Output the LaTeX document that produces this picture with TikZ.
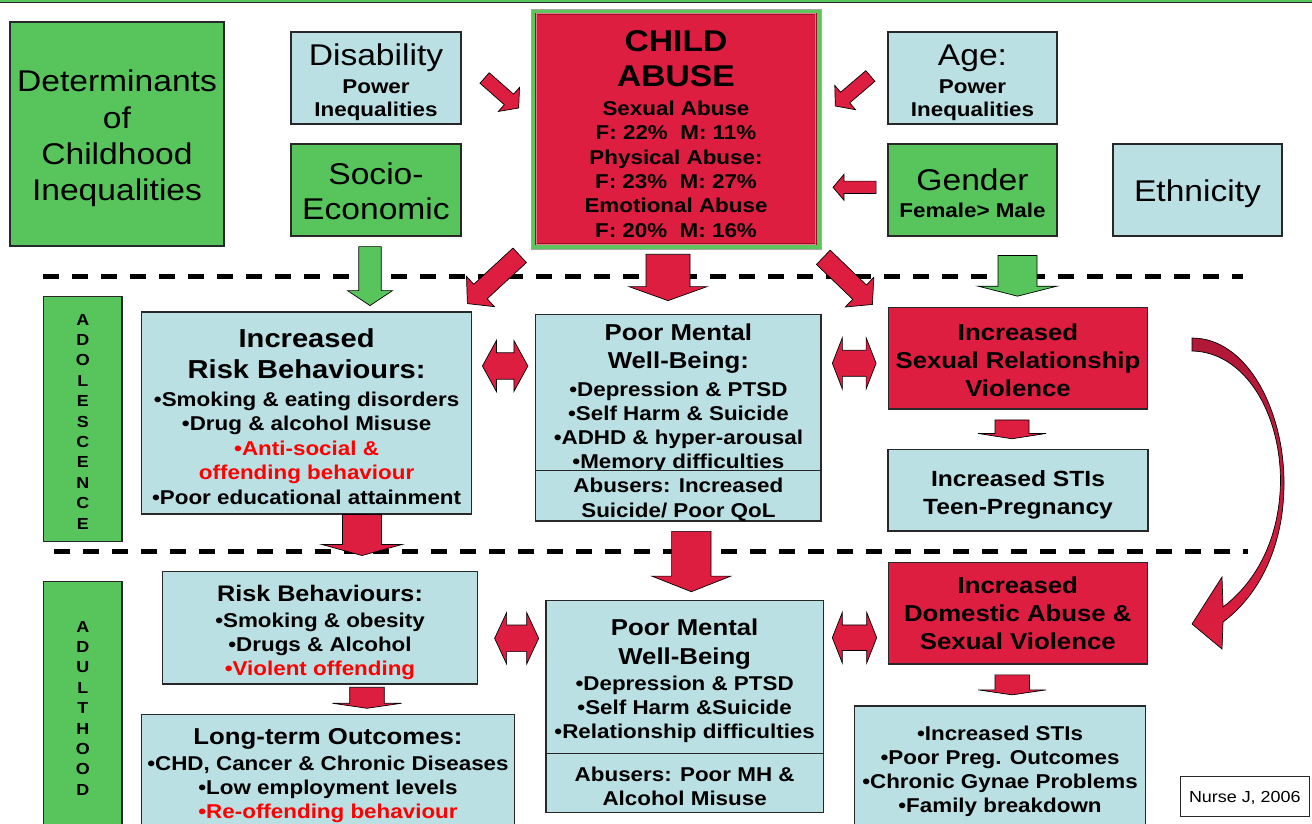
\documentclass[tikz,border=0pt]{standalone}
\usepackage{fontspec}
\setmainfont[FakeStretch=1.12]{Liberation Sans}
\usetikzlibrary{calc}
\definecolor{boxgreen}{RGB}{88,196,92}
\definecolor{framegreen}{RGB}{92,198,92}
\definecolor{boxblue}{RGB}{186,224,228}
\definecolor{boxred}{RGB}{222,30,64}
\definecolor{textred}{RGB}{255,0,0}
\definecolor{boxline}{RGB}{40,40,40}
\definecolor{abdark}{RGB}{150,15,40}
\definecolor{abpink}{RGB}{235,120,140}
\definecolor{curvetop}{RGB}{176,24,56}
\newcommand\setfs[2]{\fontsize{#1pt}{#2pt}\selectfont}
% invisible strut that raises the first line's height (moves a centred text block down by #1/2)
\newcommand\dn[1]{\rule{0pt}{\dimexpr0.73em+#1pt\relax}}
% block arrow: [style]{tail}{tip}{body half width}{head half width}{head length}
\newcommand\blockarrow[6][]{%
  \coordinate (ba-a) at #2;
  \coordinate (ba-b) at #3;
  \coordinate (ba-n) at ($(ba-b)!#6pt!(ba-a)$);
  \draw[#1] ($(ba-a)!#4pt!90:(ba-b)$) -- ($(ba-n)!#4pt!-90:(ba-a)$) -- ($(ba-n)!#5pt!-90:(ba-a)$)
    -- (ba-b) -- ($(ba-n)!#5pt!90:(ba-a)$) -- ($(ba-n)!#4pt!90:(ba-a)$) -- ($(ba-a)!#4pt!-90:(ba-b)$) -- cycle;
}
% double block arrow: [style]{end A}{end B}{body half width}{head half width}{head length}
\newcommand\dblarrow[6][]{%
  \coordinate (da-a) at #2;
  \coordinate (da-b) at #3;
  \coordinate (da-n1) at ($(da-a)!#6pt!(da-b)$);
  \coordinate (da-n2) at ($(da-b)!#6pt!(da-a)$);
  \draw[#1] (da-a) -- ($(da-n1)!#5pt!90:(da-b)$) -- ($(da-n1)!#4pt!90:(da-b)$) -- ($(da-n2)!#4pt!-90:(da-a)$)
    -- ($(da-n2)!#5pt!-90:(da-a)$) -- (da-b) -- ($(da-n2)!#5pt!90:(da-a)$) -- ($(da-n2)!#4pt!90:(da-a)$)
    -- ($(da-n1)!#4pt!-90:(da-b)$) -- ($(da-n1)!#5pt!-90:(da-b)$) -- cycle;
}
\tikzset{
  box/.style={draw=boxline, line width=1.2pt, inner sep=0pt, align=center},
  gbox/.style={box, fill=boxgreen},
  bbox/.style={box, fill=boxblue},
  rbox/.style={box, fill=boxred},
  redarrow/.style={fill=boxred, draw=black, line width=0.7pt},
  greenarrow/.style={fill=boxgreen, draw=black, line width=0.7pt},
  dashline/.style={line width=4.5pt, dash pattern=on 16pt off 13pt},
}
\begin{document}
\begin{tikzpicture}[x=1pt, y=-1pt]
\useasboundingbox (0,0) rectangle (1312,823);
% top rule
\fill[boxgreen] (0,0) rectangle (1312,2);
\draw[boxline, line width=0.8pt] (0,2.4) -- (1312,2.4);
% dashed separators
\draw[dashline] (43,276.5) -- (1243,276.5);
\draw[dashline] (54,551.7) -- (1248,551.7);

% top row
\node[gbox, minimum width=214pt, minimum height=224pt, font=\setfs{30}{36.3}] (det) at (117,134)
  {\dn{9}Determinants\\of\\Childhood\\Inequalities};
\node[bbox, minimum width=170pt, minimum height=92pt, font=\bfseries\setfs{20}{23}] (dis) at (376,78)
  {{\mdseries\setfs{30}{30}\dn{8}Disability}\\[5.5pt]Power\\Inequalities};
\node[gbox, minimum width=170pt, minimum height=92pt, font=\setfs{30}{35}] (soc) at (376,190)
  {\dn{3}Socio-\\Economic};
\node[minimum width=290pt, minimum height=240pt, fill=framegreen, draw=black!35, line width=0.6pt] (abuse) at (676,129) {};
\draw[fill=boxred, draw=abdark, double=abpink, double distance=0.9pt, line width=0.7pt]
  ($(abuse.south west)+(5.5,-5)$) rectangle ($(abuse.north east)+(-5.5,5)$);
\node[align=center, inner sep=0pt, font=\bfseries\setfs{20}{24.4}] (abusetxt) at ($(abuse.center)+(0,5)$)
  {{\setfs{30}{30}CHILD}\\[10.6pt]{\setfs{30}{30}ABUSE}\\[4.4pt]Sexual Abuse\\F: 22\%\ \ M: 11\%\\Physical Abuse:\\F: 23\%\ \ M: 27\%\\Emotional Abuse\\F: 20\%\ \ M: 16\%};
\node[bbox, minimum width=169pt, minimum height=92pt, font=\bfseries\setfs{20}{23}] (age) at (972.5,78)
  {{\mdseries\setfs{30}{30}\dn{8}Age:}\\[5.5pt]Power\\Inequalities};
\node[gbox, minimum width=169pt, minimum height=92pt, font=\bfseries\setfs{20}{23}] (gen) at (972.5,190)
  {{\mdseries\setfs{30}{30}\dn{6}Gender}\\[4.5pt]Female> Male};
\node[bbox, minimum width=169pt, minimum height=92pt, font=\setfs{30}{36}] (eth) at (1197.5,190) {\dn{8}Ethnicity};

% adolescence row
\node[gbox, minimum width=78.5pt, minimum height=245pt, font=\bfseries\setfs{16}{20.4}] (ado) at (82.8,419.3)
  {\dn{4}A\\D\\O\\L\\E\\S\\C\\E\\N\\C\\E};
\node[bbox, minimum width=330pt, minimum height=202pt, font=\bfseries\setfs{20}{24.5}] (rb1) at (306.6,412.9)
  {{\setfs{26}{26}\dn{7}Increased}\\[6.8pt]{\setfs{26}{26}Risk Behaviours:}\\[3.4pt]•Smoking \& eating disorders\\•Drug \& alcohol Misuse\\\textcolor{textred}{•Anti-social \&}\\\textcolor{textred}{offending behaviour}\\•Poor educational attainment};
\node[bbox, minimum width=285.3pt, minimum height=153pt, font=\bfseries\setfs{20}{24.2}] (pm1) at (678.4,393.8)
  {{\setfs{23}{23}\dn{9}Poor Mental}\\[4.3pt]{\setfs{23}{23}Well-Being:}\\[3.3pt]•Depression \& PTSD\\•Self Harm \& Suicide\\•ADHD \& hyper-arousal\\•Memory difficulties};
\node[bbox, minimum width=285.3pt, minimum height=50.7pt, font=\bfseries\setfs{20}{24.3}] (pm1b) at (678.4,495.65)
  {\dn{8}Abusers: Increased\\Suicide/ Poor QoL};
\node[rbox, minimum width=259.4pt, minimum height=101.7pt, font=\bfseries\setfs{23}{28}] (sr) at (1018,358.2)
  {\dn{4}Increased\\Sexual Relationship\\Violence};
\node[bbox, minimum width=260pt, minimum height=81.7pt, font=\bfseries\setfs{22}{27.7}] (sti1) at (1018,490.2)
  {\dn{9}Increased STIs\\Teen-Pregnancy};

% adulthood row
\node[gbox, minimum width=78.5pt, minimum height=248.2pt, font=\bfseries\setfs{16}{20.4}] (adu) at (82.8,705.8)
  {\dn{4}A\\D\\U\\L\\T\\H\\O\\O\\D};
\node[bbox, minimum width=315pt, minimum height=112.3pt, font=\bfseries\setfs{20}{24.2}] (rb2) at (320,627.8)
  {{\setfs{22.5}{22.5}\dn{10}Risk Behaviours:}\\[1.5pt]•Smoking \& obesity\\•Drugs \& Alcohol\\\textcolor{textred}{•Violent offending}};
\node[bbox, minimum width=373pt, minimum height=120pt, font=\bfseries\setfs{20}{24.2}] (lt) at (328,774.3)
  {{\setfs{23}{23}\dn{2}Long-term Outcomes:}\\[1.8pt]•CHD, Cancer \& Chronic Diseases\\•Low employment levels\\\textcolor{textred}{•Re-offending behaviour}};
\node[bbox, minimum width=277.3pt, minimum height=152.6pt, font=\bfseries\setfs{20}{24}] (pm2) at (684.65,677)
  {{\setfs{23}{23}\dn{7}Poor Mental}\\[5pt]{\setfs{23}{23}Well-Being}\\[2.6pt]•Depression \& PTSD\\•Self Harm \&Suicide\\•Relationship difficulties};
\node[bbox, minimum width=277.3pt, minimum height=59pt, font=\bfseries\setfs{20}{24}] (pm2b) at (684.65,782.8)
  {\dn{6}Abusers: Poor MH \&\\Alcohol Misuse};
\node[rbox, minimum width=259pt, minimum height=101.3pt, font=\bfseries\setfs{23}{28.3}] (da) at (1017.8,613.3)
  {Increased\\Domestic Abuse \&\\Sexual Violence};
\node[bbox, minimum width=291.4pt, minimum height=126pt, font=\bfseries\setfs{20}{24.1}] (bo) at (1000,769)
  {\dn{4}•Increased STIs\\•Poor Preg. Outcomes\\•Chronic Gynae Problems\\•Family breakdown};
\node[draw=boxline, line width=0.8pt, fill=white, minimum width=128.3pt, minimum height=40.7pt, inner sep=0pt, font=\setfs{16}{19}] (nurse) at (1244.8,796.3)
  {\dn{3}Nurse J, 2006};

% arrows into child abuse
\blockarrow[redarrow]{($(dis.east)+(23,0)$)}{($(abuse.west)+(-12,-21)$)}{7}{16}{13}
\blockarrow[redarrow]{($(age.west)+(-17,-2)$)}{($(abuse.east)+(14,-23)$)}{7}{16}{13}
\blockarrow[redarrow]{($(gen.west)+(-11.3,-2.7)$)}{($(abuse.east)+(11.7,58.3)$)}{6.2}{13}{11}
% green arrows
\blockarrow[greenarrow]{($(soc.south)+(-6,10)$)}{($(soc.south)+(-6,69)$)}{11.2}{22.5}{15}
\blockarrow[greenarrow]{($(sr.north)+(-0.5,-51.3)$)}{($(sr.north)+(-0.5,-10.6)$)}{19.5}{39.5}{10}
% arrows out of child abuse
\blockarrow[redarrow]{($(abuse.south west)+(-11,6)$)}{($(rb1.north east)+(-4.8,-7.7)$)}{9.9}{20.6}{17.8}
\blockarrow[redarrow]{($(abuse.south)+(-8,5)$)}{($(pm1.north)+(-10.4,-13.3)$)}{22}{39}{14}
\blockarrow[redarrow]{($(abuse.south east)+(2,8)$)}{($(sr.north west)+(-15.3,-2.3)$)}{9.9}{20.6}{17.8}
% vertical arrows
\blockarrow[redarrow]{($(rb1.south)+(55.4,0)$)}{($(rb1.south)+(55.4,41)$)}{19.5}{40}{11}
\blockarrow[redarrow]{($(pm1b.south)+(12.9,9.7)$)}{($(pm2.north)+(6.65,-8.4)$)}{19.7}{39.5}{15.6}
\blockarrow[redarrow]{($(sr.south)+(-6,10.3)$)}{($(sti1.north)+(-6,-10)$)}{17}{34}{5.3}
\blockarrow[redarrow]{($(rb2.south)+(47,2.7)$)}{($(rb2.south)+(47,23.7)$)}{17.3}{34.5}{5}
\blockarrow[redarrow]{($(da.south)+(-5.6,10.3)$)}{($(da.south)+(-5.6,30.3)$)}{17.2}{34}{5}
% double arrows
\dblarrow[redarrow]{($(rb1.east)+(10.2,-46.9)$)}{($(rb1.east)+(55.7,-46.9)$)}{13.2}{25.5}{14}
\dblarrow[redarrow]{($(pm1.east)+(10.7,-30.5)$)}{($(sr.west)+(-11.6,5.1)$)}{13}{25.7}{10}
\dblarrow[redarrow]{($(rb2.east)+(16.5,10.5)$)}{($(pm2.west)+(-6.7,-38.7)$)}{13.3}{25.7}{12}
\dblarrow[redarrow]{($(pm2.east)+(8.4,-39.3)$)}{($(da.west)+(-11,24.4)$)}{12.8}{25.3}{10}
% curved arrow from sexual relationship violence to domestic abuse
\draw[line width=0.7pt, top color=curvetop, bottom color=boxred]
  (1192,338) .. controls (1247,338) and (1284,410) .. (1284,483)
  .. controls (1284,548) and (1258,596) .. (1223,622)
  -- (1222,649) -- (1192,624) -- (1222,577) -- (1223,607)
  .. controls (1252,585) and (1279,545) .. (1280.5,483)
  .. controls (1281,413) and (1245,352) .. (1192,351) -- cycle;
\end{tikzpicture}
\end{document}
